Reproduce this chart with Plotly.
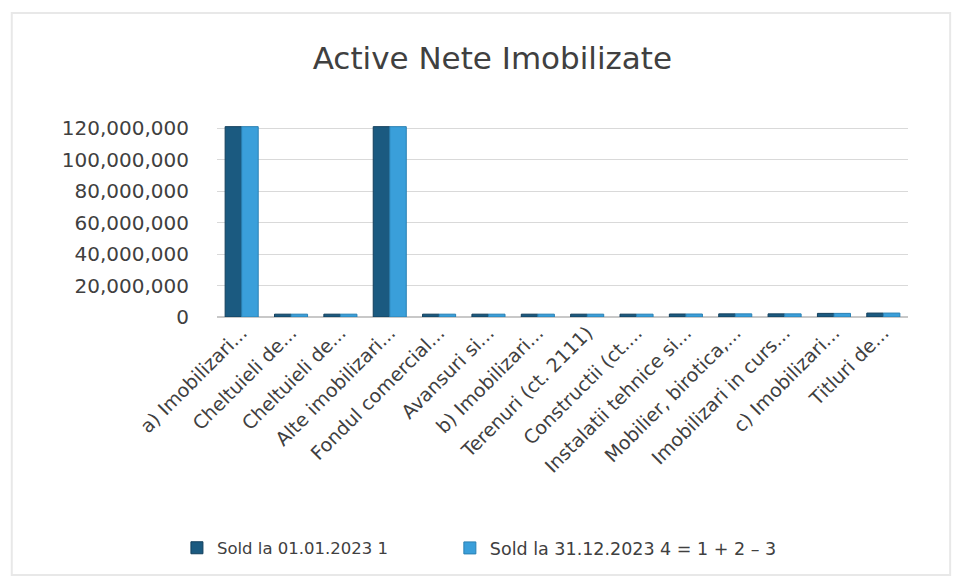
import plotly.graph_objects as go

categories = [
    "a) Imobilizari...", "Cheltuieli de...", "Cheltuieli de...", "Alte imobilizari...",
    "Fondul comercial...", "Avansuri si...", "b) Imobilizari...", "Terenuri (ct. 2111)",
    "Constructii (ct....", "Instalatii tehnice si...", "Mobilier, birotica,...",
    "Imobilizari in curs...", "c) Imobilizari...", "Titluri de...",
]

sold_2023_01 = [121000000, 1800000, 1800000, 121000000, 1800000, 1800000, 1800000,
                1800000, 1800000, 1900000, 2000000, 2000000, 2300000, 2500000]
sold_2023_12 = [121000000, 1800000, 1800000, 121000000, 1800000, 1800000, 1800000,
                1800000, 1800000, 1900000, 2000000, 2000000, 2300000, 2500000]

series_names = ["Sold la 01.01.2023 1", "Sold la 31.12.2023 4 = 1 + 2 – 3"]
tick_vals = [0, 20000000, 40000000, 60000000, 80000000, 100000000, 120000000]

xs = list(range(len(categories)))
FONT = "DejaVu Sans"

fig = go.Figure()
fig.add_trace(go.Bar(x=xs, y=sold_2023_01, name=series_names[0], legend="legend",
                     marker=dict(color="#1b5a80", line=dict(color="#123f5c", width=1))))
fig.add_trace(go.Bar(x=xs, y=sold_2023_12, name=series_names[1], legend="legend2",
                     marker=dict(color="#3a9fda", line=dict(color="#2a80b3", width=1))))

legend_common = dict(orientation="h", xanchor="left", y=-1.161, yanchor="middle",
                     itemwidth=30, bgcolor="rgba(0,0,0,0)")

fig.update_layout(
    width=963, height=582,
    paper_bgcolor="white", plot_bgcolor="white",
    barmode="group", bargap=0.33, bargroupgap=0.0,
    margin=dict(l=209, r=63, t=110, b=273, autoexpand=False),
    title=dict(text="Active Nete Imobilizate", xref="container", x=0.503, xanchor="center",
               yref="container", y=0.914, yanchor="middle",
               font=dict(family=FONT, size=31, color="#404040")),
    font=dict(family=FONT, size=17, color="#404040"),
    legend=dict(x=-0.058, font=dict(family=FONT, size=16.5, color="#404040"), **legend_common),
    legend2=dict(x=0.337, font=dict(family=FONT, size=17.5, color="#404040"), **legend_common),
    showlegend=True,
)
fig.update_xaxes(tickmode="array", tickvals=xs, ticktext=categories, tickangle=-45,
                 range=[-0.5, len(categories) - 0.5], showgrid=False, showline=False,
                 ticks="", automargin=False, tickfont=dict(family=FONT, size=19, color="#404040"))
fig.update_yaxes(range=[0, 126500000], tickvals=tick_vals, tickformat=",d",
                 showgrid=True, gridcolor="#d9d9d9", gridwidth=1, zeroline=True,
                 zerolinecolor="#c8c8c8", ticks="", automargin=False, ticklabelstandoff=27,
                 tickfont=dict(family=FONT, size=20, color="#404040"))

fig.add_shape(type="rect", xref="paper", yref="paper", x0=-0.297, x1=1.061,
              y0=-1.296, y1=1.528, line=dict(color="#e8e8e8", width=2), layer="below")

fig.write_html("out.html")
